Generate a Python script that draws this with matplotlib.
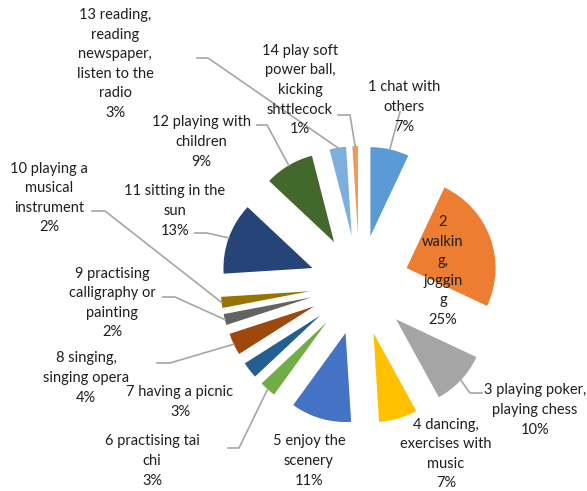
import matplotlib
matplotlib.use("Agg")
import matplotlib.pyplot as plt
import numpy as np

W, H = 587, 491

labels = [
    "1 chat with\nothers",
    "2\nwalkin\ng,\njoggin\ng",
    "3 playing poker,\nplaying chess",
    "4 dancing,\nexercises with\nmusic",
    "5 enjoy the\nscenery",
    "6 practising tai\nchi",
    "7 having a picnic",
    "8 singing,\nsinging opera",
    "9 practising\ncalligraphy or\npainting",
    "10 playing a\nmusical\ninstrument",
    "11 sitting in the\nsun",
    "12 playing with\nchildren",
    "13 reading,\nreading\nnewspaper,\nlisten to the\nradio",
    "14 play soft\npower ball,\nkicking\nshttlecock",
]
percent = [7, 25, 10, 7, 11, 3, 3, 4, 2, 2, 13, 9, 3, 1]

colors = ["#5B9BD5", "#ED7D31", "#A5A5A5", "#FFC000", "#4472C4", "#70AD47",
          "#255E91", "#9E480E", "#636363", "#997300", "#264478", "#43682B",
          "#7CAFDD", "#F1975A"]

# layout (pixel coordinates, y downward)
center_px = (359.5, 285.0)
radius = 89.0
explode_px = 50.0
label_pos = [(404, 107), (443, 271), (535, 410), (446, 454), (309, 461),
             (152, 461), (180, 402), (86, 378), (112, 303), (49, 198),
             (175, 211), (201, 142), (115, 64), (300, 90)]
leader = [
    [(400, 112)],
    None,
    [(482, 393), (470, 393)],
    None,
    None,
    [(228, 448), (239, 448)],
    None,
    [(157, 363), (170, 363)],
    [(163, 297), (175, 297)],
    [(92, 211), (105, 211)],
    [(195, 233), (207, 233)],
    [(257, 125), (267, 125)],
    [(197, 58), (208, 58)],
    [(338, 115), (350, 115)],
]

fig = plt.figure(figsize=(W / 100, H / 100), dpi=100)
ax = fig.add_axes([0, 0, 1, 1])

wedges, _ = ax.pie(percent, radius=radius, explode=[explode_px] * len(percent),
                   center=(center_px[0], H - center_px[1]), startangle=90,
                   counterclock=False, colors=colors,
                   wedgeprops=dict(linewidth=0))
ax.set_xlim(0, W)
ax.set_ylim(0, H)
ax.set_aspect("equal")
ax.axis("off")

font = ["Lato", "DejaVu Sans"]
for i, w in enumerate(wedges):
    txt = f"{labels[i]}\n{percent[i]}%"
    x, y = label_pos[i]
    ax.text(x, H - y, txt, ha="center", va="center", multialignment="center",
            fontsize=10.5, family=font, color="#1f1f1f", linespacing=1.51,
            zorder=5)
    if leader[i] is not None:
        mid = np.deg2rad((w.theta1 + w.theta2) / 2)
        px = w.center[0] + w.r * np.cos(mid)
        py = w.center[1] + w.r * np.sin(mid)
        xs = [p[0] for p in leader[i]] + [px]
        ys = [H - p[1] for p in leader[i]] + [py]
        ax.plot(xs, ys, color="#A6A6A6", lw=1.2, zorder=1)

fig.savefig("out.png", dpi=100)
